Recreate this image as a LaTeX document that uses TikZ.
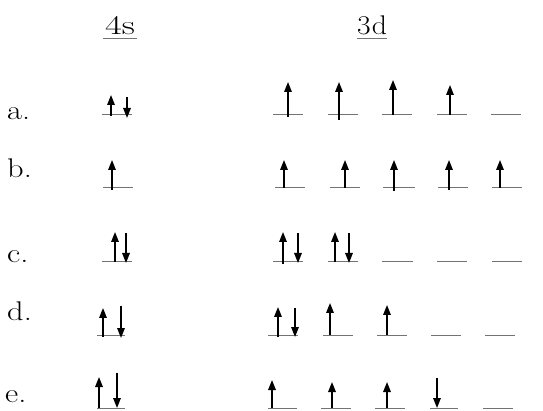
\documentclass[tikz,border=0pt]{standalone}
\usepackage{graphicx}
\usetikzlibrary{arrows.meta}
\tikzset{
  orbline/.style={draw=black!55, line width=1pt},
  spin/.style={draw=black, line width=1.6pt, -{Triangle[length=10pt,width=7.5pt]}},
  lbl/.style={inner sep=0pt, anchor=base west, font=\fontsize{27}{32}\selectfont},
  hdr/.style={inner sep=0pt, anchor=base, font=\fontsize{27}{32}\selectfont}
}
\newcommand{\orb}[3]{\draw[orbline] (#1,#3) -- (#2,#3);}
\newcommand{\spinup}[3]{\draw[spin] (#1,#3) -- (#1,#2);}
\newcommand{\spindn}[3]{\draw[spin] (#1,#2) -- (#1,#3);}
\begin{document}
\begin{tikzpicture}[x=1pt,y=-1pt]
\useasboundingbox (0,0) rectangle (543,411);
% headers
\node[hdr] (h4s) at (120,35) {\scalebox{1.35}[1]{4s}};
\node[hdr] (h3d) at (372,35) {\scalebox{1.1}[1]{3\kern1pt d}};
\draw[orbline] (103,39) -- (137,39);
\draw[orbline] (357,39) -- (387,39);
% labels
\node[lbl] (la) at (7,120) {\scalebox{1.2}[1]{a.}};
\node[lbl] (lb) at (7,178) {\scalebox{1.2}[1]{b.}};
\node[lbl] (lc) at (7,263) {\scalebox{1.2}[1]{c.}};
\node[lbl] (ld) at (7,320) {\scalebox{1.2}[1]{d.}};
\node[lbl] (le) at (5,402) {\scalebox{1.2}[1]{e.}};
% row a
\orb{102}{132}{115}
\spinup{111}{95}{116}
\spindn{127}{97}{118}
\orb{273}{303}{115} \spinup{288}{82}{117}
\orb{328}{358}{115} \spinup{339}{82}{120}
\orb{382}{412}{115} \spinup{393}{80}{115}
\orb{437}{467}{115} \spinup{450}{85}{115}
\orb{491}{521}{115}
% row b
\orb{103}{133}{188} \spinup{112}{160}{190}
\orb{275}{305}{188} \spinup{284}{160}{188}
\orb{330}{360}{188} \spinup{345}{160}{188}
\orb{383}{415}{188} \spinup{394}{160}{191}
\orb{438}{468}{188} \spinup{449}{160}{190}
\orb{492}{522}{188} \spinup{500}{160}{188}
% row c
\orb{102}{132}{262} \spinup{115}{232}{262} \spindn{126}{233}{263}
\orb{273}{303}{262} \spinup{283}{232}{264} \spindn{298}{233}{263}
\orb{328}{358}{262} \spinup{335}{232}{262} \spindn{349}{233}{263}
\orb{382}{413}{262}
\orb{437}{467}{262}
\orb{492}{522}{262}
% row d
\orb{97}{125}{335} \spinup{103}{308}{337} \spindn{121}{306}{338}
\orb{268}{298}{335} \spinup{278}{307}{337} \spindn{295}{308}{337}
\orb{323}{353}{335} \spinup{330}{303}{335}
\orb{377}{407}{335} \spinup{387}{305}{335}
\orb{431}{461}{335}
\orb{485}{515}{335}
% row e
\orb{97}{125}{408} \spinup{99}{377}{408} \spindn{117}{373}{408}
\orb{268}{297}{408} \spinup{272}{380}{408}
\orb{321}{351}{408} \spinup{332}{382}{408}
\orb{375}{405}{408} \spinup{387}{382}{408}
\orb{430}{458}{408} \spindn{437}{378}{408}
\orb{483}{513}{408}
\end{tikzpicture}
\end{document}
